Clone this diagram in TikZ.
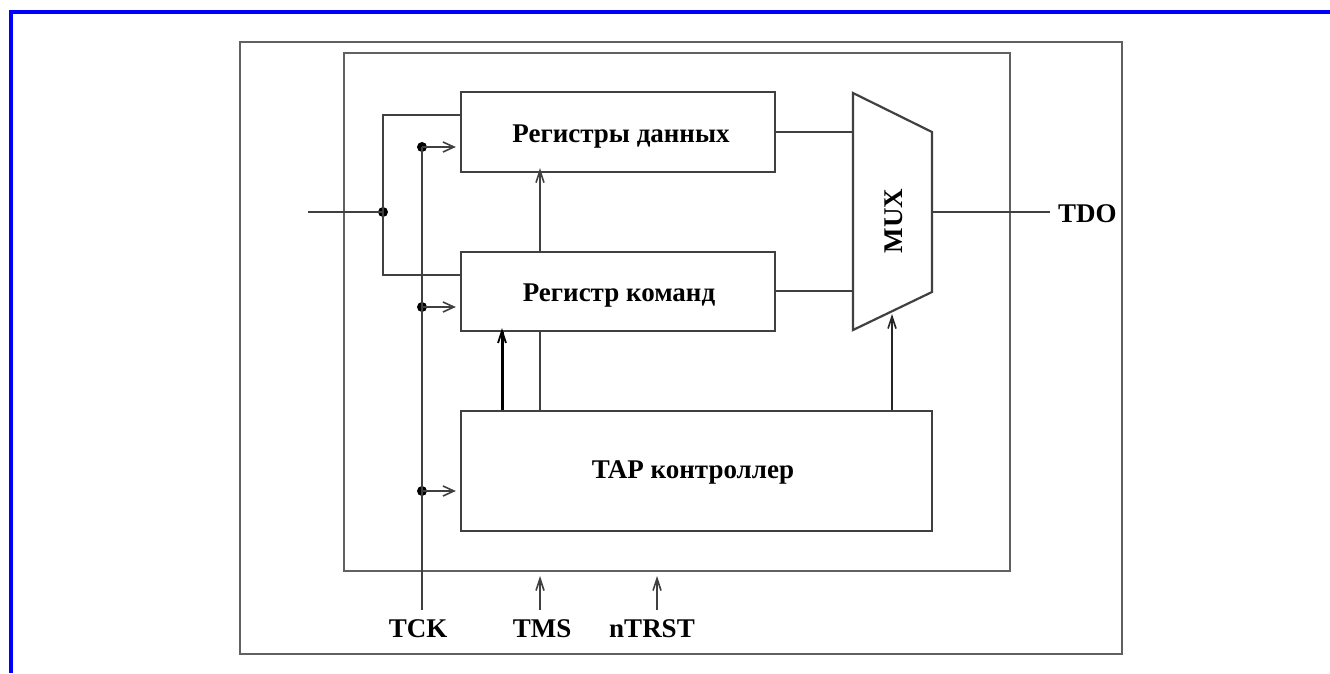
\documentclass[tikz,border=0pt]{standalone}
\usepackage{fontspec}
\setmainfont{Liberation Serif}
\usetikzlibrary{arrows.meta}
\begin{document}
\begin{tikzpicture}[x=1pt,y=-1pt,
  wire/.style={draw=black!75,line width=2.2pt},
  frame/.style={draw=black!62,line width=2.8pt},
  blk/.style={draw=black!75,line width=2.2pt,minimum width=314pt,minimum height=80pt,inner sep=0pt},
  lbl/.style={font=\fontsize{27}{29}\selectfont\bfseries,inner sep=0pt},
  dot/.style={circle,fill=black,inner sep=0pt,minimum size=10pt},
  clk/.style={wire,-{Straight Barb[length=11pt,width=10pt,line width=1.6pt]}},
  up/.style={wire,-{Straight Barb[length=12pt,width=8pt,line width=1.6pt]}}]
\useasboundingbox (0,0) rectangle (1330,673);
% blue frame
\draw[blue,line width=4pt] (11,673) -- (11,12) -- (1330,12);
% outer rectangles
\draw[frame] (240,42) rectangle (1122,654);
\draw[frame] (344,53) rectangle (1010,571);
% blocks
\node[blk] (data) at (618,132) {};
\node[lbl,anchor=base] at (621,142) {Регистры данных};
\node[blk,minimum height=79pt] (cmd) at (618,291.5) {};
\node[lbl,anchor=base] at (619,301) {Регистр команд};
\node[blk,minimum width=471pt,minimum height=120pt] (tap) at (696.5,471) {};
\node[lbl,anchor=base] at (693,478) {TAP контроллер};
% MUX
\coordinate (m1) at (853,93);
\coordinate (m2) at (932,132);
\coordinate (m3) at (932,292);
\coordinate (m4) at (853,330);
\draw[wire,line join=miter] (m1) -- (m2) -- (m3) -- (m4) -- cycle;
\node[lbl,rotate=90] (muxt) at (894,221) {MUX};
% input
\coordinate (in) at (308,212);
\node[dot] (j) at (383,212) {};
\coordinate (jt) at (383,115);
\coordinate (jb) at (383,275);
\draw[wire] (in) -- (j.center);
\draw[wire] (data.west |- jt) -- (jt) -- (jb) -- (cmd.west |- jb);
% TCK
\coordinate (tckb) at (422,610);
\node[dot] (c1) at (422,147) {};
\node[dot] (c2) at (422,307) {};
\node[dot] (c3) at (422,491) {};
\draw[wire] (tckb) -- (c1.center);
\draw[clk] (c1.center) -- ([xshift=-4pt]data.west |- c1);
\draw[clk] (c2.center) -- ([xshift=-4pt]cmd.west |- c2);
\draw[clk] (c3.center) -- ([xshift=-4pt]tap.west |- c3);
% to MUX
\draw[wire] (data.east |- 0,132) -- (853,132);
\draw[wire] (cmd.east |- 0,291) -- (853,291);
\coordinate (tdoend) at (1050,212);
\draw[wire] (932,212) -- (tdoend);
\node[lbl,anchor=base west] (tdo) at (1058,222) {TDO};
% vertical arrows
\draw[up] (cmd.north -| 540,0) -- ([yshift=5pt]data.south -| 540,0);
\draw[draw=black,line width=3pt,-{Straight Barb[length=12pt,width=8pt,line width=1.8pt]}] (tap.north -| 502,0) -- ([yshift=4pt]cmd.south -| 502,0);
\draw[wire] (cmd.south -| 540,0) -- (tap.north -| 540,0);
\draw[up,draw=black!85] (tap.north -| 892,0) -- (892,314);
% TMS, nTRST
\coordinate (tms) at (540,610);
\coordinate (ntrst) at (657,610);
\draw[up] (tms) -- (540,576);
\draw[up] (ntrst) -- (657,576);
\node[lbl,anchor=base] (tckl) at (418,637) {TCK};
\node[lbl,anchor=base] (tmsl) at (542,637) {TMS};
\node[lbl,anchor=base] (ntrstl) at (652,637) {nTRST};
\end{tikzpicture}
\end{document}
